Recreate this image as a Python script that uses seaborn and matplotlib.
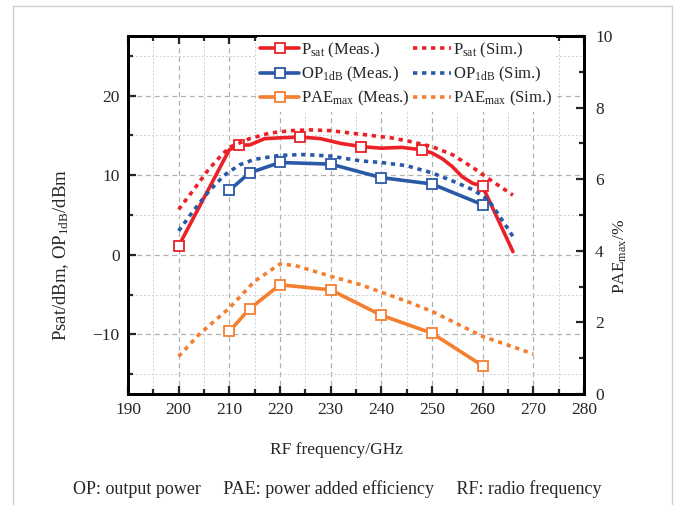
import numpy as np
import pandas as pd
import matplotlib
matplotlib.use('Agg')
import matplotlib.pyplot as plt
import seaborn as sns
from matplotlib.lines import Line2D
from matplotlib.ticker import MultipleLocator

# Psat measured (line points, markers every 12 GHz)
psat_meas_f = [200, 210, 212, 214, 217, 220, 224, 228, 232, 236, 240, 244, 248, 250, 252, 254, 256, 258, 260, 266]
psat_meas_v = [1.1, 13.2, 13.8, 13.8, 14.6, 14.7, 14.8, 14.6, 14.0, 13.6, 13.4, 13.5, 13.2, 12.8, 12.1, 11.1, 9.8, 9.0, 8.6, 0.4]
psat_meas_marks = [0, 2, 6, 9, 12, 18]
# Psat simulated
psat_sim_f = [200, 203, 206, 208, 210, 214, 218, 222, 226, 230, 234, 238, 242, 246, 250, 254, 258, 262, 266]
psat_sim_v = [5.7, 8.2, 10.8, 12.2, 13.5, 14.6, 15.3, 15.6, 15.7, 15.6, 15.3, 15.0, 14.7, 14.2, 13.6, 12.6, 11.0, 9.2, 7.5]
# OP1dB measured / simulated
op_meas_f = [210, 214, 220, 230, 240, 250, 260]
op_meas_v = [8.1, 10.3, 11.6, 11.4, 9.7, 8.9, 6.3]
op_sim_f = [200, 203, 206, 209, 212, 215, 220, 225, 230, 236, 240, 245, 250, 254, 258, 261, 263, 266]
op_sim_v = [3.0, 5.6, 8.0, 10.0, 11.3, 12.0, 12.5, 12.6, 12.4, 11.8, 11.6, 11.2, 10.3, 9.3, 8.2, 7.0, 5.2, 2.3]
# PAEmax measured / simulated (right axis, %)
pae_meas_f = [210, 214, 220, 230, 240, 250, 260]
pae_meas_v = [1.75, 2.38, 3.05, 2.91, 2.2, 1.70, 0.79]
pae_sim_f = [200, 204, 210, 215, 220, 223, 230, 236, 245, 250, 260, 270]
pae_sim_v = [1.05, 1.66, 2.40, 3.15, 3.63, 3.59, 3.29, 3.05, 2.59, 2.31, 1.61, 1.12]

red = '#ec2027'
blue = '#2a59a8'
orange = '#f47f30'

sns.set_style('white')
plt.rcParams['font.family'] = ['Liberation Serif', 'DejaVu Serif']
plt.rcParams['mathtext.fontset'] = 'custom'
plt.rcParams['mathtext.rm'] = 'Liberation Serif'
plt.rcParams['mathtext.it'] = 'Liberation Serif:italic'
plt.rcParams['font.size'] = 12

fig = plt.figure(figsize=(6.75, 5.05), dpi=100)
ax = fig.add_axes([0.1896, 0.2198, 0.6754, 0.7089])
ax2 = ax.twinx()

lw = 2.6
dot = (0, (1.2, 1.3))

sns.lineplot(x=psat_meas_f, y=psat_meas_v, ax=ax, color=red, lw=lw, sort=False,
             markevery=psat_meas_marks, marker='s', markersize=6.5, markerfacecolor='white',
             markeredgecolor=red, markeredgewidth=1.3, label=r'P$_{\mathrm{sat}}$ (Meas.)', legend=False)
sns.lineplot(x=psat_sim_f, y=psat_sim_v, ax=ax, color=red, lw=lw, linestyle=dot,
             label=r'P$_{\mathrm{sat}}$ (Sim.)', legend=False)
sns.lineplot(x=op_meas_f, y=op_meas_v, ax=ax, color=blue, lw=lw,
             marker='s', markersize=6.5, markerfacecolor='white',
             markeredgecolor=blue, markeredgewidth=1.3, label=r'OP$_{\mathrm{1dB}}$ (Meas.)', legend=False)
sns.lineplot(x=op_sim_f, y=op_sim_v, ax=ax, color=blue, lw=lw, linestyle=dot,
             label=r'OP$_{\mathrm{1dB}}$ (Sim.)', legend=False)
sns.lineplot(x=pae_meas_f, y=pae_meas_v, ax=ax2, color=orange, lw=lw,
             marker='s', markersize=6.5, markerfacecolor='white',
             markeredgecolor=orange, markeredgewidth=1.3, label=r'PAE$_{\mathrm{max}}$ (Meas.)', legend=False)
sns.lineplot(x=pae_sim_f, y=pae_sim_v, ax=ax2, color=orange, lw=lw, linestyle=dot,
             label=r'PAE$_{\mathrm{max}}$ (Sim.)', legend=False)

ax.set_xlim(190, 280)
ax.set_ylim(-17.5, 27.5)
ax2.set_ylim(0, 10)
ax.xaxis.set_major_locator(MultipleLocator(10))
ax.xaxis.set_minor_locator(MultipleLocator(5))
ax.yaxis.set_major_locator(MultipleLocator(10))
ax.yaxis.set_minor_locator(MultipleLocator(5))
ax2.yaxis.set_major_locator(MultipleLocator(2))
ax2.yaxis.set_minor_locator(MultipleLocator(1))

ax.grid(which='major', color='#b0b0b0', linestyle=(0, (4, 3)), lw=0.9)
ax.grid(which='minor', color='#cfcfcf', linestyle=(0, (2, 2)), lw=0.7)
ax.set_axisbelow(True)

ax.tick_params(which='both', direction='in', top=True, left=True, bottom=True, right=False,
               width=1.6, labelsize=12.5, pad=6)
ax.tick_params(which='major', length=6)
ax.tick_params(which='minor', length=3.5)
ax2.tick_params(which='both', direction='in', right=True, width=1.6, labelsize=12.5, pad=8)
ax2.tick_params(which='major', length=6)
ax2.tick_params(which='minor', length=3.5)
for sp in ax2.spines.values():
    sp.set_linewidth(2)
    sp.set_color('black')
for sp in ax.spines.values():
    sp.set_linewidth(2)
    sp.set_color('black')
ax.set_yticklabels([str(int(t)).replace('-', '\u2212') for t in ax.get_yticks()])

ax.set_xlabel('RF frequency/GHz', fontsize=12.5)
ax.set_ylabel(r'Psat/dBm, OP$_{\mathrm{1dB}}$/dBm', fontsize=13.5)
ax2.set_ylabel(r'PAE$_{\mathrm{max}}$/%', fontsize=12.5)
ax.xaxis.set_label_coords(0.458, -0.135)
ax.yaxis.set_label_coords(-0.125, 0.388)
ax2.yaxis.set_label_coords(1.06, 0.383)

h1, l1 = ax.get_legend_handles_labels()
h2, l2 = ax2.get_legend_handles_labels()
order = [0, 2, 4, 1, 3, 5]
hs = h1 + h2
ls = l1 + l2
ax2.legend([hs[i] for i in order], [ls[i] for i in order], ncol=2, loc='upper left',
           bbox_to_anchor=(0.265, 1.02), frameon=True, facecolor='white', edgecolor='none',
           framealpha=1, fancybox=False, fontsize=12, handlelength=2.3, handletextpad=0.15,
           columnspacing=0.15, labelspacing=0.3, borderpad=0.2)

fig.text(0.5, 0.032, 'OP: output power     PAE: power added efficiency     RF: radio frequency',
         ha='center', va='center', fontsize=13)

# light frame around the figure
fc = '#d0d0d0'
fig.add_artist(Line2D([0.0193, 0.0193], [0, 0.988], color=fc, lw=1.0))
fig.add_artist(Line2D([0.0193, 0.9956], [0.988, 0.988], color=fc, lw=1.0))
fig.add_artist(Line2D([0.9956, 0.9956], [0, 0.988], color=fc, lw=1.0))

fig.savefig('out.png', dpi=100)
